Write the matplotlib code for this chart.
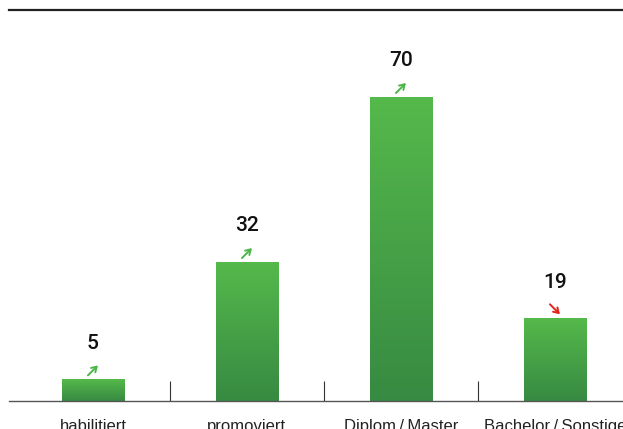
import numpy as np
import matplotlib
matplotlib.use("Agg")
import matplotlib.pyplot as plt
from matplotlib.colors import LinearSegmentedColormap
from matplotlib.transforms import offset_copy

categories = ["habilitiert", "promoviert", "Diplom\u2009/\u2009Master", "Bachelor\u2009/\u2009Sonstige"]
values = [5, 32, 70, 19]
trend = ["up", "up", "up", "down"]

plt.rcParams['font.family'] = ['Liberation Sans', 'DejaVu Sans']

W, H = 623, 429
fig = plt.figure(figsize=(W / 100, H / 100), dpi=100)
ax = fig.add_axes([9 / W, 28 / H, 614 / W, 391 / H])

x = np.arange(len(categories))
bars = ax.bar(x, values, width=0.403, color="none", edgecolor="none", zorder=2)

cmap = LinearSegmentedColormap.from_list("g", ["#378a42", "#55b94b"])
grad = np.linspace(0, 1, 256).reshape(-1, 1)
for b in bars:
    x0, y0 = b.get_x(), b.get_y()
    w, h = b.get_width(), b.get_height()
    im = ax.imshow(grad, cmap=cmap, origin="lower", aspect="auto",
                   extent=[x0, x0 + w, y0, y0 + h], zorder=2)
    im.set_clip_path(b)

ax.set_xlim(-0.545, 3.442)
ax.set_ylim(0, 90)

for xi, v, t in zip(x, values, trend):
    ax.annotate(str(v), (xi, v), xytext=(0, 26), textcoords="offset points",
                ha="center", va="center", fontsize=15, color="#111111",
                family=["Roboto", "Liberation Sans"], fontweight="medium")
    if t == "up":
        head = offset_copy(ax.transData, fig=fig, x=3.6, y=10.0, units="points")
        ax.annotate("", xy=(xi, v), xycoords=head,
                    xytext=(-7.2, -7.2), textcoords="offset points",
                    arrowprops=dict(arrowstyle="->,head_length=0.35,head_width=0.22",
                                    color="#4cb749", lw=1.4, shrinkA=0, shrinkB=0))
    else:
        head = offset_copy(ax.transData, fig=fig, x=3.6, y=3.0, units="points")
        ax.annotate("", xy=(xi, v), xycoords=head,
                    xytext=(-7.2, 7.2), textcoords="offset points",
                    arrowprops=dict(arrowstyle="->,head_length=0.35,head_width=0.22",
                                    color="#e2231a", lw=1.4, shrinkA=0, shrinkB=0))

ax.vlines([0.5, 1.5, 2.5], 0, 4.6, color="#333333", lw=0.8, zorder=3)

ax.set_xticks(x)
ax.set_xticklabels(categories, fontsize=12, color="#222222")
ax.tick_params(axis="x", length=0, pad=13)
ax.set_yticks([])

for s in ["left", "right"]:
    ax.spines[s].set_visible(False)
ax.spines["top"].set_linewidth(1.6)
ax.spines["top"].set_color("#222222")
ax.spines["bottom"].set_linewidth(1.0)
ax.spines["bottom"].set_color("#555555")

fig.savefig("out.png", dpi=100)
